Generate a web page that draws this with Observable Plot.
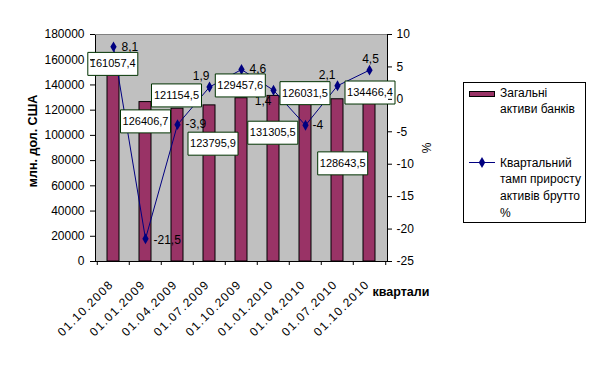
<!DOCTYPE html>
<html>
<head>
<meta charset="utf-8">
<script src="https://cdn.jsdelivr.net/npm/d3@7"></script>
<script src="https://cdn.jsdelivr.net/npm/@observablehq/plot@0.6"></script>
<style>
  html, body { margin: 0; padding: 0; background: #fff; }
  #wrap { position: relative; width: 613px; height: 370px; font-family: 'Liberation Sans', Arial, sans-serif; }
  #legend { position: absolute; left: 463px; top: 82px; }
  g[aria-label="x-axis tick label"] text { letter-spacing: 1.3px; }
</style>
</head>
<body>
<div id="wrap"></div>
<script>
// ---- data ----
const categories = ["01.10.2008", "01.01.2009", "01.04.2009", "01.07.2009", "01.10.2009", "01.01.2010", "01.04.2010", "01.07.2010", "01.10.2010"];
const assets = [161057.4, 126406.7, 121154.5, 123795.9, 129457.6, 131305.5, 126031.5, 128643.5, 134466.4];
const growth = [8.1, -21.5, -3.9, 1.9, 4.6, 1.4, -4, 2.1, 4.5];
const leftTicks = [0, 20000, 40000, 60000, 80000, 100000, 120000, 140000, 160000, 180000];
const rightTicks = [-25, -20, -15, -10, -5, 0, 5, 10];
const seriesNames = ["Загальні активи банків", "Квартальний тамп приросту активів брутто %"];
const yTitle = "млн. дол. США";
const xTitle = "квартали";
const y2Title = "%";

// ---- label placement (pixel offsets, styling only) ----
const boxOffsets = [[-0.7, 5.5], [0, 19.3], [-1, -13.3], [3.5, 38.3], [-1.2, -12.8], [-0.7, 36.8], [-0.5, -9.4], [5.2, 64.1], [0.5, 0.6]];
const pointLabelPlacement = [
  {anchor: "start", dx: 8, dy: 0.5},
  {anchor: "start", dx: 8, dy: 1},
  {anchor: "start", dx: 8, dy: 0},
  {anchor: "end", dx: 0, dy: -11},
  {anchor: "start", dx: 8, dy: 0},
  {anchor: "end", dx: -2, dy: 11},
  {anchor: "start", dx: 7, dy: 0},
  {anchor: "end", dx: -2, dy: -10.4},
  {anchor: "middle", dx: 1, dy: -10.6}
];

const yMax = 180000, pMin = -25, pMax = 10;
const toLeft = p => (p - pMin) / (pMax - pMin) * yMax;
const fromLeft = v => Math.round(v / yMax * (pMax - pMin) + pMin);
const comma = v => String(v).replace(".", ",");

const rows = categories.map((c, i) => ({c, v: assets[i], g: growth[i]}));

const navy = "#000080";
const barFill = "#993366";

// custom rectangular symbol for data-label boxes
const boxSymbol = {draw(ctx) { ctx.rect(-25, -11.5, 50, 23); }};

const step = (387 - 95) / categories.length;

const plot = Plot.plot({
  width: 613,
  height: 370,
  marginLeft: 95,
  marginRight: 226,
  marginTop: 34,
  marginBottom: 109,
  style: {fontFamily: "'Liberation Sans', Arial, sans-serif", fontSize: "12px", background: "transparent", color: "black", overflow: "visible"},
  x: {type: "band", domain: categories, paddingInner: 0.62, paddingOuter: 0.31, align: 0.5, axis: null},
  y: {domain: [0, yMax], axis: null},
  marks: [
    Plot.frame({fill: "#C0C0C0", stroke: "black"}),
    Plot.ruleY([yMax], {stroke: "#808080"}),
    Plot.barY(rows, {x: "c", y: "v", fill: barFill, stroke: "black", strokeWidth: 1}),
    Plot.line(rows, {x: "c", y: d => toLeft(d.g), stroke: navy, strokeWidth: 1}),
    Plot.dot(rows, {x: "c", y: d => toLeft(d.g), symbol: "diamond", r: 3.3, fill: navy, stroke: null}),
    ...rows.map((d, i) => Plot.text([d], {
      x: "c", y: r => toLeft(r.g), text: r => comma(r.g),
      textAnchor: pointLabelPlacement[i].anchor, dx: pointLabelPlacement[i].dx, dy: pointLabelPlacement[i].dy,
      fontSize: 12, fill: "black"
    })),
    ...rows.map((d, i) => Plot.dot([d], {
      x: "c", y: "v", symbol: boxSymbol, r: 5, fill: "white", stroke: "#003300", strokeWidth: 1,
      dx: boxOffsets[i][0], dy: boxOffsets[i][1]
    })),
    ...rows.map((d, i) => Plot.text([d], {
      x: "c", y: "v", text: r => comma(r.v), fontSize: 11, fill: "black",
      dx: boxOffsets[i][0], dy: boxOffsets[i][1]
    })),
    // left axis
    Plot.axisY(leftTicks, {anchor: "left", tickSize: 5, tickPadding: 6, tickFormat: d => String(d), label: null, fontSize: 12}),
    // right axis (percent)
    Plot.axisY(rightTicks.map(toLeft), {anchor: "right", tickSize: 4, tickPadding: 5, tickFormat: v => String(fromLeft(v)), label: null, fontSize: 12}),
    // category boundary ticks
    Plot.ruleX(categories, {x: d => d, y1: 0, y2: 0, insetBottom: -4, dx: -step / 2, stroke: "black"}),
    Plot.ruleX([categories[categories.length - 1]], {x: d => d, y1: 0, y2: 0, insetBottom: -4, dx: step / 2, stroke: "black"}),
    // category labels
    Plot.axisX({tickSize: 0, tickRotate: -45, tickPadding: 21, dx: -2, label: null, fontSize: 12}),
    // titles
    Plot.text([yTitle], {frameAnchor: "left", textAnchor: "middle", dx: -63, dy: -7, rotate: -90, fontWeight: "bold", fontSize: 12.5, text: d => d}),
    Plot.text([xTitle], {frameAnchor: "bottom-right", textAnchor: "start", dx: -15, dy: 34, fontWeight: "bold", fontSize: 12.5, text: d => d}),
    Plot.text([y2Title], {frameAnchor: "right", textAnchor: "middle", dx: 40, dy: 0, rotate: -90, fontSize: 12, text: d => d})
  ]
});

const wrap = document.getElementById("wrap");
wrap.appendChild(plot);

// legend
const lg = d3.create("svg").attr("id", "legend").attr("width", 124).attr("height", 142)
  .style("font-family", "'Liberation Sans', Arial, sans-serif").style("font-size", "12px");
lg.append("rect").attr("x", 0.5).attr("y", 0.5).attr("width", 122).attr("height", 140).attr("fill", "white").attr("stroke", "black");
lg.append("rect").attr("x", 6.5).attr("y", 9.5).attr("width", 25).attr("height", 5).attr("fill", barFill).attr("stroke", "black");
const t1 = lg.append("text").attr("x", 37).attr("y", 11.5).attr("dominant-baseline", "middle");
["Загальні", "активи банків"].forEach((s, i) => t1.append("tspan").attr("x", 37).attr("dy", i ? 16.7 : 0).text(s));
lg.append("line").attr("x1", 6).attr("x2", 32).attr("y1", 80.5).attr("y2", 80.5).attr("stroke", navy);
lg.append("path").attr("d", d3.symbol(d3.symbolDiamond, 36)()).attr("transform", "translate(19,80.5)").attr("fill", navy);
const t2 = lg.append("text").attr("x", 37).attr("y", 81.5).attr("dominant-baseline", "middle");
["Квартальний", "тамп приросту", "активів брутто", "%"].forEach((s, i) => t2.append("tspan").attr("x", 37).attr("dy", i ? 16.7 : 0).text(s));
wrap.appendChild(lg.node());
</script>
</body>
</html>
